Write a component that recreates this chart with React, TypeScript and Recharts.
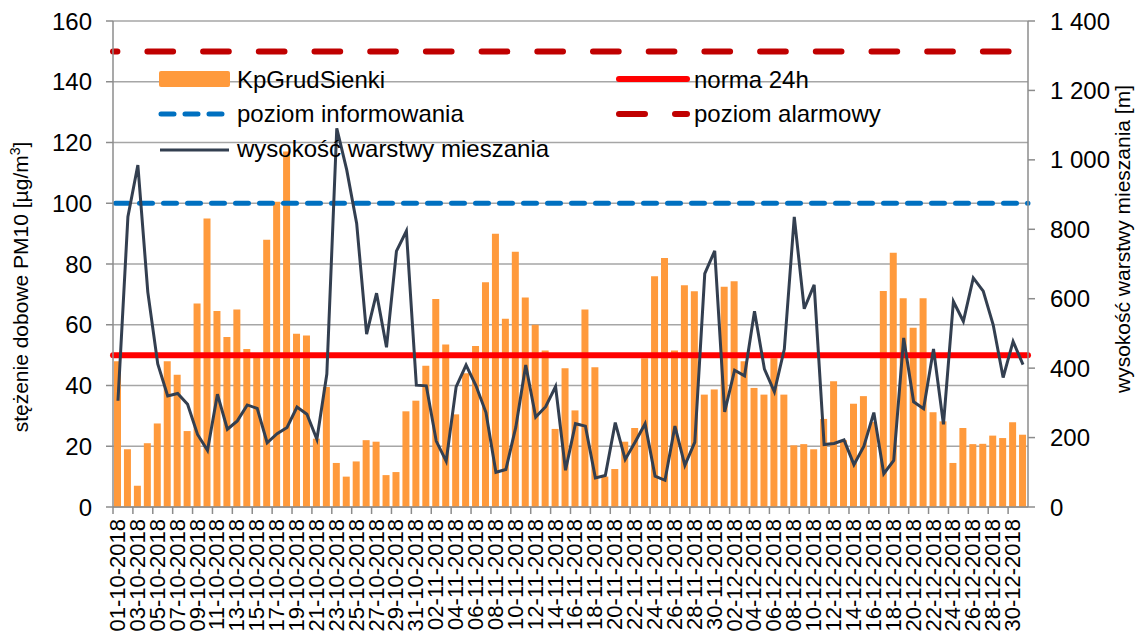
import {
  Bar,
  CartesianGrid,
  ComposedChart,
  Legend,
  Line,
  ReferenceLine,
  XAxis,
  YAxis,
} from 'recharts';

const dates = [
  '01-10-2018', '02-10-2018', '03-10-2018', '04-10-2018', '05-10-2018', '06-10-2018', '07-10-2018', '08-10-2018',
  '09-10-2018', '10-10-2018', '11-10-2018', '12-10-2018', '13-10-2018', '14-10-2018', '15-10-2018', '16-10-2018',
  '17-10-2018', '18-10-2018', '19-10-2018', '20-10-2018', '21-10-2018', '22-10-2018', '23-10-2018', '24-10-2018',
  '25-10-2018', '26-10-2018', '27-10-2018', '28-10-2018', '29-10-2018', '30-10-2018', '31-10-2018',
  '01-11-2018', '02-11-2018', '03-11-2018', '04-11-2018', '05-11-2018', '06-11-2018', '07-11-2018', '08-11-2018',
  '09-11-2018', '10-11-2018', '11-11-2018', '12-11-2018', '13-11-2018', '14-11-2018', '15-11-2018', '16-11-2018',
  '17-11-2018', '18-11-2018', '19-11-2018', '20-11-2018', '21-11-2018', '22-11-2018', '23-11-2018', '24-11-2018',
  '25-11-2018', '26-11-2018', '27-11-2018', '28-11-2018', '29-11-2018', '30-11-2018',
  '01-12-2018', '02-12-2018', '03-12-2018', '04-12-2018', '05-12-2018', '06-12-2018', '07-12-2018', '08-12-2018',
  '09-12-2018', '10-12-2018', '11-12-2018', '12-12-2018', '13-12-2018', '14-12-2018', '15-12-2018', '16-12-2018',
  '17-12-2018', '18-12-2018', '19-12-2018', '20-12-2018', '21-12-2018', '22-12-2018', '23-12-2018', '24-12-2018',
  '25-12-2018', '26-12-2018', '27-12-2018', '28-12-2018', '29-12-2018', '30-12-2018', '31-12-2018',
];

// PM10, µg/m3
const pm10 = [
  48, 19, 7, 21, 27.5, 48, 43.5, 25, 67, 95, 64.5, 56, 65, 52, 50, 88, 100.5, 117, 57, 56.5, 22.5, 39.5, 14.5, 10,
  15, 22, 21.5, 10.5, 11.5, 31.5, 35,
  46.5, 68.5, 53.5, 30.5, 44, 53, 74, 90, 62, 84, 69, 60, 51.5, 25.7, 45.7, 31.8, 65, 46, 10, 12.5, 21.5, 26, 49,
  76, 82, 51.5, 73, 71, 37,
  38.7, 72.5, 74.3, 48, 39.2, 37, 49, 37, 20.3, 20.7, 19, 29, 41.4, 22, 34, 36.5, 28, 71.1, 83.7, 68.7, 59, 68.7,
  31.2, 28.2, 14.5, 26, 20.7, 20.8, 23.5, 22.7, 27.9, 23.8,
];

// mixing layer height, m
const mixing = [
  306, 836, 985, 619, 412, 320, 327, 296, 209, 163, 325, 224, 248, 294, 284, 185, 211, 229, 288, 267, 195, 383, 1091,
  971, 817, 498, 616, 460, 737, 795, 351,
  349, 190, 132, 346, 409, 349, 272, 100, 108, 230, 409, 259, 289, 347, 106, 240, 233, 84, 91, 243, 137, 187, 240,
  89, 77, 233, 120, 187, 672,
  738, 274, 394, 378, 564, 397, 332, 455, 836, 571, 640, 180, 183, 193, 122, 175, 272, 96, 134, 487, 303, 283, 455,
  238, 592, 535, 660, 622, 525, 373, 477, 410,
];

const pmTicks = [0, 20, 40, 60, 80, 100, 120, 140, 160];
const heightTicks = [0, 200, 400, 600, 800, 1000, 1200, 1400];

const NORM_24H = 50;
const INFO_LEVEL = 100;
const ALARM_LEVEL = 150;

const data = dates.map((date, i) => ({ date, pm10: pm10[i], mixing: mixing[i] }));

const FONT = '"Liberation Sans", Arial, sans-serif';
const W = 1141;
const H = 644;
const PLOT_LEFT = 113;
const PLOT_RIGHT = 1028;
const BAND = (PLOT_RIGHT - PLOT_LEFT) / dates.length;

const ORANGE = '#FF9A3C';
const DARK = '#333F50';
const RED = '#FF0000';
const DARK_RED = '#C00000';
const BLUE = '#0070C0';
const AXIS = '#8C8C8C';

const formatHeight = (v: number) =>
  v >= 1000 ? `${Math.floor(v / 1000)} ${String(v % 1000).padStart(3, '0')}` : String(v);

function DateTick({ x, y, payload }: any) {
  const edge = x - BAND / 2;
  return (
    <g>
      <line x1={edge} x2={edge} y1={y} y2={y + 7} stroke={AXIS} strokeWidth={1.5} />
      <text
        transform={`translate(${x + 7},${y + 12}) rotate(-90)`}
        textAnchor="end"
        fontSize={22}
        fontFamily={FONT}
        fill="#000"
      >
        {payload.value}
      </text>
    </g>
  );
}

function renderLegend() {
  const text = { fontSize: 24, fontFamily: FONT, fill: '#000' };
  return (
    <svg width={W} height={H} style={{ display: 'block' }}>
      <rect x={159} y={71} width={71} height={16} rx={2} fill={ORANGE} />
      <text x={237} y={88} {...text}>KpGrudSienki</text>
      <line x1={161} x2={222} y1={114} y2={114} stroke={BLUE} strokeWidth={5}
        strokeDasharray="13 11" strokeLinecap="round" />
      <text x={237} y={122} {...text}>poziom informowania</text>
      <line x1={160} x2={229} y1={150} y2={150} stroke={DARK} strokeWidth={3} />
      <text x={237} y={157} {...text}>wysokość warstwy mieszania</text>
      <line x1={619} x2={687} y1={79} y2={79} stroke={RED} strokeWidth={6} strokeLinecap="round" />
      <text x={694} y={88} {...text}>norma 24h</text>
      <line x1={619} x2={687} y1={114} y2={114} stroke={DARK_RED} strokeWidth={6}
        strokeDasharray="26 30" strokeLinecap="round" />
      <text x={694} y={122} {...text}>poziom alarmowy</text>
    </svg>
  );
}

export default function App() {
  const tick = { fill: '#000', fontSize: 24, fontFamily: FONT };
  return (
    <div style={{ position: 'absolute', left: 0, top: 0, width: W, height: H, background: '#fff' }}>
      <ComposedChart
        width={W}
        height={H}
        data={data}
        margin={{ top: 21, right: 0, bottom: 0, left: 0 }}
        barSize={7}
      >
        <CartesianGrid yAxisId="left" vertical={false} stroke="#A6A6A6" strokeWidth={1.5} />
        <XAxis
          dataKey="date"
          interval={1}
          height={137}
          tickLine={false}
          tickSize={0}
          tickMargin={0}
          axisLine={{ stroke: AXIS, strokeWidth: 1.5 }}
          tick={<DateTick />}
        />
        <YAxis
          yAxisId="left"
          domain={[0, 160]}
          ticks={pmTicks}
          width={PLOT_LEFT}
          tickSize={7}
          tickMargin={14}
          tick={tick}
          tickLine={{ stroke: AXIS, strokeWidth: 1.5 }}
          axisLine={{ stroke: AXIS, strokeWidth: 1.5 }}
          label={() => (
            <text transform="translate(28,287) rotate(-90)" textAnchor="middle"
              fontSize={21} fontFamily={FONT} fill="#000">
              stężenie dobowe PM10 [µg/m<tspan dy={-8} fontSize={14}>3</tspan><tspan dy={8}>]</tspan>
            </text>
          )}
        />
        <YAxis
          yAxisId="right"
          orientation="right"
          domain={[0, 1400]}
          ticks={heightTicks}
          width={W - PLOT_RIGHT}
          tickSize={7}
          tickMargin={15}
          tick={tick}
          tickFormatter={formatHeight}
          tickLine={{ stroke: AXIS, strokeWidth: 1.5 }}
          axisLine={{ stroke: AXIS, strokeWidth: 1.5 }}
          label={() => (
            <text transform="translate(1130,239) rotate(-90)" textAnchor="middle"
              fontSize={21} fontFamily={FONT} fill="#000">
              wysokość warstwy mieszania [m]
            </text>
          )}
        />
        <Legend
          layout="horizontal"
          verticalAlign="middle"
          align="center"
          content={renderLegend}
          wrapperStyle={{ position: 'absolute', left: 0, top: 0, width: W, height: H, pointerEvents: 'none' }}
        />
        <Bar yAxisId="left" dataKey="pm10" fill={ORANGE} isAnimationActive={false} />
        <ReferenceLine yAxisId="left" y={NORM_24H} stroke={RED} strokeWidth={6}
          strokeLinecap="round" zIndex={350} />
        <ReferenceLine yAxisId="left" y={INFO_LEVEL} stroke={BLUE} strokeWidth={5}
          strokeDasharray="13 11" strokeDashoffset={-2.5} strokeLinecap="round" zIndex={350} />
        <ReferenceLine yAxisId="left" y={ALARM_LEVEL} stroke={DARK_RED} strokeWidth={6}
          strokeDasharray="25.7 30" strokeDashoffset={21.3} strokeLinecap="round" zIndex={350} />
        <Line
          yAxisId="right"
          dataKey="mixing"
          stroke={DARK}
          strokeWidth={3}
          dot={false}
          activeDot={false}
          isAnimationActive={false}
          zIndex={450}
        />
      </ComposedChart>
    </div>
  );
}
